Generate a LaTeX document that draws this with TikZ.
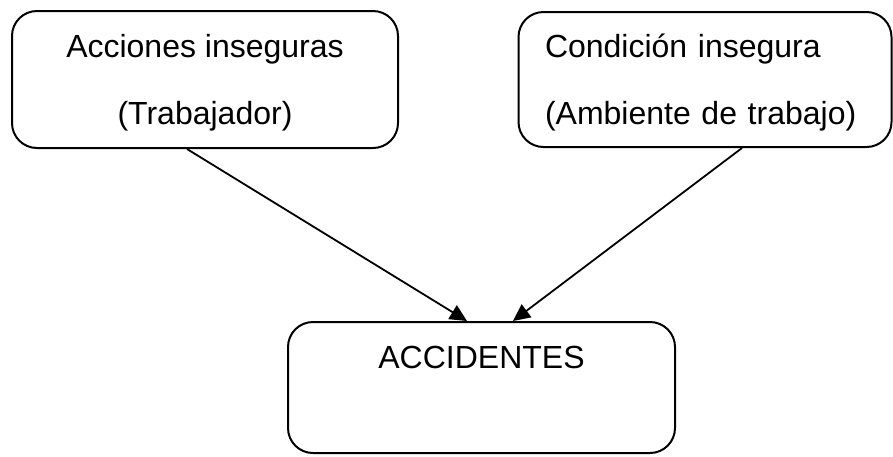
\documentclass[tikz,border=0pt]{standalone}
\usepackage{fontspec}
\setmainfont{Liberation Sans}
\usetikzlibrary{arrows.meta}
\newcommand{\topstrut}{\rule{0pt}{29.5pt}}
\begin{document}
\begin{tikzpicture}[x=1pt,y=-1pt,line width=2pt,
        node font=\fontsize{32}{67}\selectfont,
        box/.style={draw,rounded corners=25pt,inner sep=0pt},
        arrow/.style={-{Triangle[length=17pt,width=16pt]},line width=1.8pt}]
    \useasboundingbox (0,0) rectangle (893,456);
    \node [box,minimum width=386pt,minimum height=137pt,align=center] (acc) at (205,79.5)
        {\topstrut Acciones inseguras\\(Trabajador)};
    \node [box,minimum width=373pt,minimum height=135pt,text width=320pt,align=left] (cond) at (705,79.5)
        {\topstrut Condición insegura\\(Ambiente de trabajo)};
    \node [box,minimum width=387pt,minimum height=131pt,align=center] (res) at (481.5,387.5)
        {\topstrut ACCIDENTES\\\mbox{}};
    \draw [arrow] ([xshift=-18pt]acc.south) -- ([xshift=-14.5pt]res.north);
    \draw [arrow] ([xshift=37pt]cond.south) -- ([xshift=31.5pt]res.north);
\end{tikzpicture}
\end{document}
